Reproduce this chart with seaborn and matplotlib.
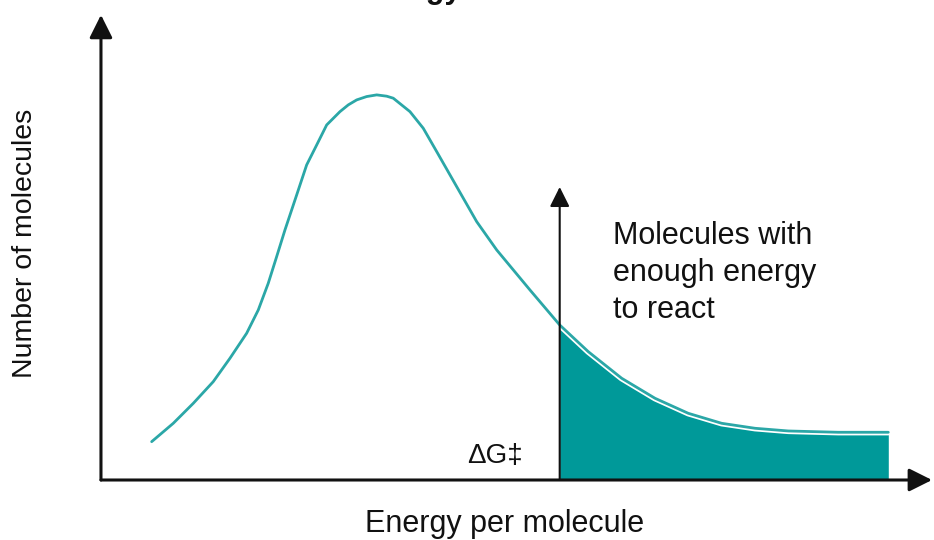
import matplotlib
matplotlib.use("Agg")
import matplotlib.pyplot as plt
import seaborn as sns
import pandas as pd

# Maxwell-Boltzmann style distribution of molecular energies (arbitrary units)
energy = [6.10, 8.70, 11.11, 13.51, 15.52, 17.53, 18.93, 20.13, 21.14, 22.14,
          23.55, 24.75, 25.96, 27.16, 28.76, 29.76, 30.77, 31.97, 33.18, 34.38,
          35.17, 37.18, 38.78, 40.40, 42.00, 43.60, 45.21, 47.62, 51.62, 55.20,
          58.64, 62.66, 66.67, 70.67, 74.69, 78.70, 82.71, 88.72, 94.74]
molecules = [8.24, 12.19, 16.49, 21.14, 26.17, 31.55, 36.56, 42.30, 48.02, 53.76,
             61.29, 67.74, 72.04, 76.34, 79.20, 80.65, 81.72, 82.44, 82.80, 82.52,
             82.09, 79.20, 75.63, 70.60, 65.59, 60.58, 55.55, 49.46, 40.86, 33.33,
             27.59, 21.87, 17.57, 14.34, 12.19, 11.12, 10.54, 10.26, 10.26]
activation_energy = 55.2
threshold_arrow_top = 63.0

x_label = "Energy per molecule"
y_label = "Number of molecules"
barrier_label = "ΔG‡"
region_label = "Molecules with\nenough energy\nto react"
title = "Activation Energy"

df = pd.DataFrame({"energy": energy, "molecules": molecules})

sns.set_style("white")
plt.rcParams["font.family"] = ["Liberation Sans", "DejaVu Sans"]

line_color = "#2ba7a7"
fill_color = "#009999"
ink = "#111111"

fig = plt.figure(figsize=(9.34, 5.40), dpi=100)
ax = fig.add_axes([0, 0, 1, 1])
ax.set_xlim(-12.15, 100.24)
ax.set_ylim(-12.9, 103.2)
ax.axis("off")

# shaded area: molecules above the activation barrier
tail = df[df["energy"] >= activation_energy]
ax.fill_between(tail["energy"], 0, tail["molecules"], color=fill_color, lw=0, zorder=1)

# distribution curve (white halo separates it from the shaded area)
sns.lineplot(data=df, x="energy", y="molecules", ax=ax, color="white", lw=4.5,
             sort=False, zorder=2)
sns.lineplot(data=df, x="energy", y="molecules", ax=ax, color=line_color, lw=2.0,
             sort=False, zorder=3)
ax.set_xlabel("")
ax.set_ylabel("")

# axes drawn as arrows
axis_arrow = dict(arrowstyle="-|>,head_length=0.7,head_width=0.35", color=ink,
                  lw=2.2, shrinkA=0, shrinkB=0, mutation_scale=20)
ax.annotate("", xy=(0, 100), xytext=(0, 0), arrowprops=axis_arrow, zorder=4)
ax.annotate("", xy=(100, 0), xytext=(0, 0), arrowprops=axis_arrow, zorder=4)

# activation-energy marker
marker_arrow = dict(arrowstyle="-|>,head_length=0.6,head_width=0.3", color=ink,
                    lw=1.5, shrinkA=0, shrinkB=0, mutation_scale=20)
ax.annotate("", xy=(activation_energy, threshold_arrow_top), xytext=(activation_energy, 0),
            arrowprops=marker_arrow, zorder=5)

ax.text(-9.15, 50.9, y_label, rotation=90, ha="center", va="center", fontsize=20.5,
        color=ink)
ax.text(48.6, -11.1, x_label, ha="center", va="baseline", fontsize=22, color=ink)
ax.text(50.8, 3.66, barrier_label, ha="right", va="baseline", fontsize=20, color=ink)
ax.text(61.6, 55.7, region_label, ha="left", va="top", fontsize=22, color=ink,
        linespacing=1.3)

fig.text(0.4945, 1.0 + 2.0 / 540, title, ha="right", va="baseline", fontsize=22,
         fontweight="bold", color=ink)

fig.savefig("out.png", dpi=100)
